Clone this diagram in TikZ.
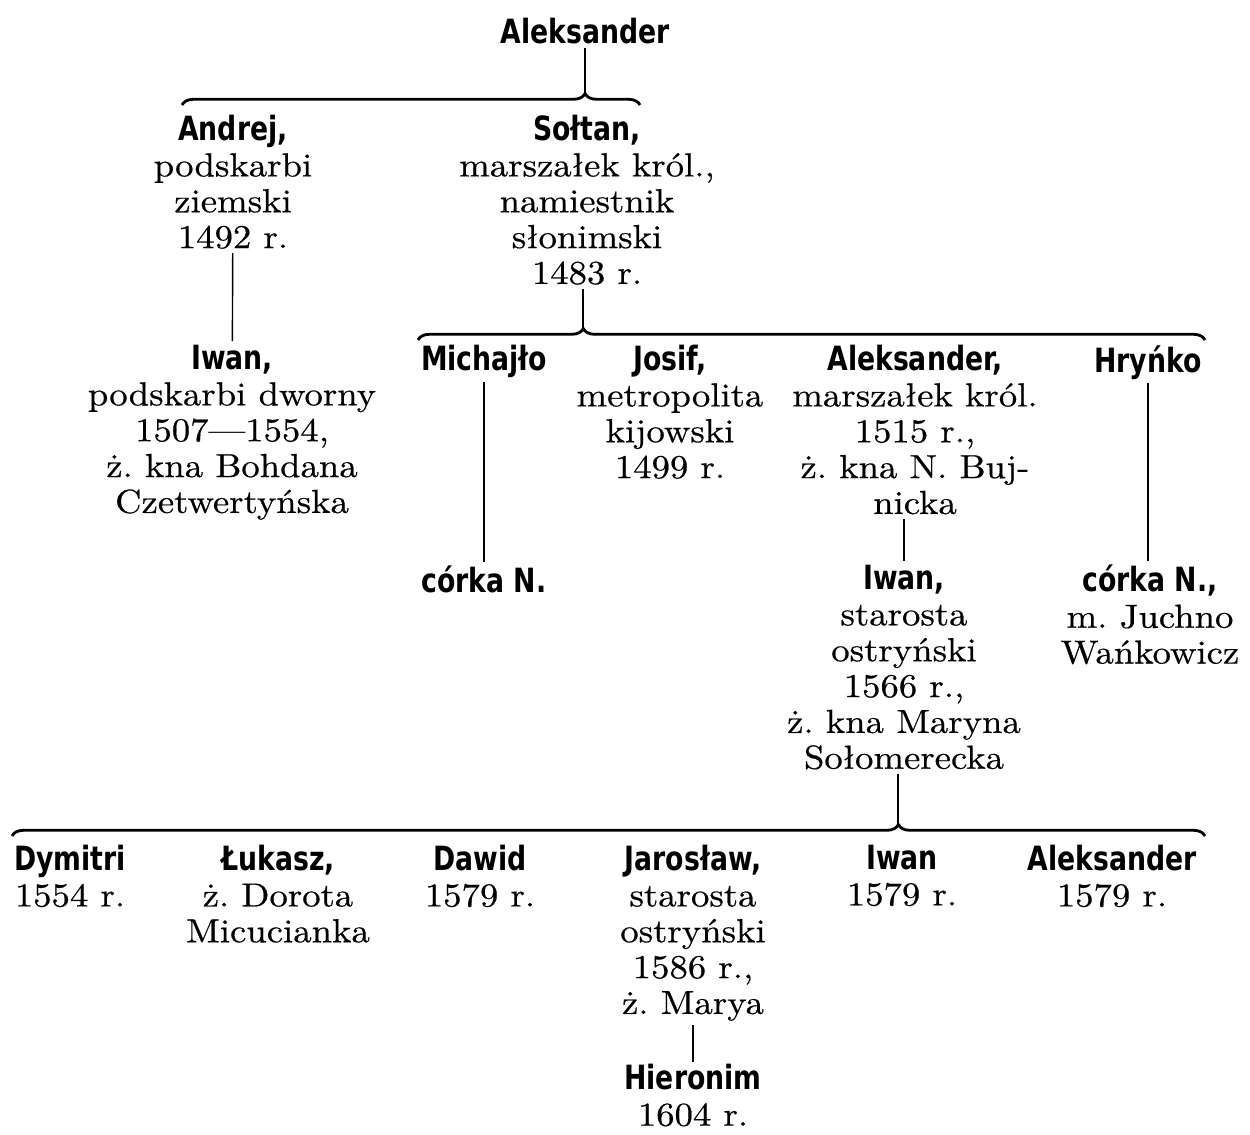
\documentclass[tikz,border=0pt]{standalone}
\usepackage{fontspec}
\setmainfont{lmroman10-regular.otf}[FakeStretch=1.1, FakeBold=0.5]
\newfontfamily\namefont{DejaVu Sans}[FakeStretch=0.8]
\usetikzlibrary{positioning,decorations.pathreplacing}
\tikzset{>=latex}
\newcommand{\nm}[1]{{\namefont\bfseries\fontsize{19}{20.4}\selectfont #1}}

\begin{document}
\begin{tikzpicture}[x=0.02cm, y=-0.02cm, line width=0.8pt,
  person/.style={align=center, anchor=north, inner sep=2pt, font=\fontsize{19}{20.4}\selectfont\frenchspacing},
  brc/.style={decorate, line width=1.6pt, decoration={brace, amplitude=6.5pt, aspect=#1}}]
		\useasboundingbox (0,0) rectangle (1250,1135);
		% first generation
		\node[person] (aleks) at (585,14) {\nm{Aleksander}};
		\node[person] (andrej) at (233,111) {\nm{Andrej,}\\ podskarbi\\ ziemski\\ 1492 r.};
		\node[person] (soltan) at (587,111) {\nm{Sołtan,}\\ marszałek król.,\\ namiestnik\\ słonimski\\ 1483 r.};
		\node[person] (iwan1) at (232,341) {\nm{Iwan,}\\ podskarbi dworny\\ 1507---1554,\\ ż. kna Bohdana\\ Czetwertyńska};
		% children of Sołtan
		\node[person] (michajlo) at (484,341) {\nm{Michajło}};
		\node[person] (corka1) at (484,562) {\nm{córka N.}};
		\node[person] (josif) at (670,341) {\nm{Josif,}\\ metropolita\\ kijowski\\ 1499 r.};
		\node[person] (aleks2) at (915,341) {\nm{Aleksander,}\\ marszałek król.\\ 1515 r.,\\ ż. kna N. Buj-\\ nicka};
		\node[person] (hrynko) at (1148,341) {\nm{Hryńko}};
		\node[person] (iwan2) at (904,561) {\nm{Iwan,}\\ starosta\\ ostryński\\ 1566 r.,\\ ż. kna Maryna\\ Sołomerecka};
		\node[person] (corka2) at (1150,561) {\nm{córka N.,}\\ m. Juchno\\ Wańkowicz};
		% children of Iwan
		\node[person] (dymitri) at (70,841) {\nm{Dymitri}\\ 1554 r.};
		\node[person] (lukasz) at (278,841) {\nm{Łukasz,}\\ ż. Dorota\\ Micucianka};
		\node[person] (dawid) at (480,841) {\nm{Dawid}\\ 1579 r.};
		\node[person] (jaroslaw) at (693,841) {\nm{Jarosław,}\\ starosta\\ ostryński\\ 1586 r.,\\ ż. Marya};
		\node[person] (iwan3) at (902,841) {\nm{Iwan}\\ 1579 r.};
		\node[person] (aleks3) at (1112,841) {\nm{Aleksander}\\ 1579 r.};
		\node[person, inner sep=1pt] (hieronim) at (693,1062) {\nm{Hieronim}\\ 1604 r.};
		% braces
		\coordinate (b1l) at (182,105);
		\coordinate (b1r) at (640,105);
		\coordinate (b1t) at (585,93);
		\coordinate (b2l) at (418,340);
		\coordinate (b2r) at (1205,340);
		\coordinate (b2t) at (583,328);
		\coordinate (b3l) at (12,836);
		\coordinate (b3r) at (1205,836);
		\coordinate (b3t) at (898,824);
		\draw[brc=0.88] (b1l) -- (b1r);
		\draw[brc=0.21] (b2l) -- (b2r);
		\draw[brc=0.743] (b3l) -- (b3r);
		% lines
		\draw (aleks) -- (b1t);
		\draw (b2t |- soltan.south) -- (b2t);
		\draw (b3t |- iwan2.south) -- (b3t);
		\draw (andrej) -- (iwan1);
		\draw (michajlo) -- (corka1);
		\draw (iwan2.north) -- (iwan2.north |- aleks2.south);
		\draw (hrynko.south) -- (hrynko.south |- corka2.north);
		\draw (jaroslaw) -- (hieronim);
\end{tikzpicture}
\end{document}
